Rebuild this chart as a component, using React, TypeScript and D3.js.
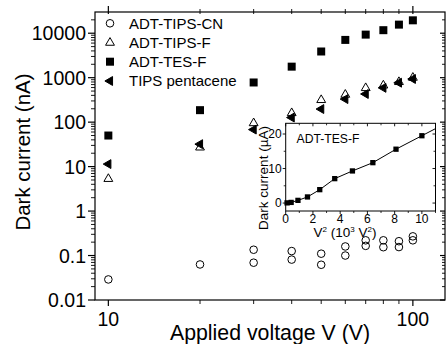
import React from "react";
import * as d3 from "d3";

const voltages = [10, 20, 30, 40, 50, 60, 70, 80, 90, 100];
const tipsCN_upper = [0.029, 0.063, 0.135, 0.126, 0.11, 0.16, 0.22, 0.22, 0.21, 0.27];
const tipsCN_lower: (number | null)[] = [null, null, 0.069, 0.081, 0.062, 0.1, 0.165, 0.154, 0.155, 0.22];
const tipsF = [5.3, 27, 95, 160, 315, 415, 585, 670, 800, 1000];
const tesF = [50, 186, 780, 1770, 3880, 7070, 9300, 11700, 15600, 19500];
const tipsPentacene = [11.4, 32, 68, 127, 197, 330, 430, 590, 770, 935];

const yMajor = [0.01, 0.1, 1, 10, 100, 1000, 10000];
const yMajorLabels = ["0.01", "0.1", "1", "10", "100", "1000", "10000"];
const xMajor = [10, 100];
const xMajorLabels = ["10", "100"];
const legendNames = ["ADT-TIPS-CN", "ADT-TIPS-F", "ADT-TES-F", "TIPS pentacene"];

const insetXTicks = [0, 2, 4, 6, 8, 10];
const insetYTicks = [0, 10, 20];
const insetXMinor = [1, 3, 5, 7, 9, 11];
const insetYMinor = [5, 15];

const FONT = "'Liberation Sans', Arial, sans-serif";

export default function App() {
  const L = 95, R = 445, T = 12, B = 300;
  const x = d3.scaleLog().domain([9.04, 127.5]).range([L, R]);
  const y = d3.scaleLog().domain([0.01, 30000]).range([B, T]);

  const yMinor: number[] = [];
  for (let e = -2; e <= 4; e++) {
    for (let m = 2; m <= 9; m++) {
      const v = m * Math.pow(10, e);
      if (v < 30000) yMinor.push(v);
    }
  }
  const xMinor = [20, 30, 40, 50, 60, 70, 80, 90];

  const square = d3.symbol().type(d3.symbolSquare).size(64)()!;
  const tri = d3.symbol().type(d3.symbolTriangle).size(34)()!;
  const sqSmall = d3.symbol().type(d3.symbolSquare).size(28)()!;

  // inset
  const iL = 285.7, iR = 435.5, iT = 123.3, iB = 211;
  const ix = d3.scaleLinear().domain([0, 11]).range([iL, iR]);
  const iy = d3.scaleLinear().domain([-2.3, 23.1]).range([iB, iT]);
  const insetX = voltages.map((v) => (v * v) / 1000);
  const insetY = tesF.map((c) => c / 1000);
  const n = insetX.length;
  const slope = (insetY[n - 1] - insetY[n - 2]) / (insetX[n - 1] - insetX[n - 2]);
  const linePts: [number, number][] = insetX.map((v, i) => [v, insetY[i]]);
  linePts.push([11, insetY[n - 1] + slope * (11 - insetX[n - 1])]);
  const line = d3
    .line<[number, number]>()
    .x((d) => ix(d[0]))
    .y((d) => iy(d[1]));

  const legendY = [23.3, 42.7, 61.7, 81];
  const legendMarkX = 110;

  return (
    <svg width={446} height={344} style={{ position: "absolute", left: 0, top: 0, background: "#fff" }} fontFamily={FONT}>
      <rect x={0} y={0} width={446} height={344} fill="#fff" />
      {/* frame */}
      <rect x={L} y={T} width={R - L} height={B - T} fill="none" stroke="#000" strokeWidth={1.2} />
      {/* y ticks left */}
      {yMajor.map((v, i) => (
        <g key={"ym" + i}>
          <line x1={L - 7} x2={L} y1={y(v)} y2={y(v)} stroke="#000" strokeWidth={1.2} />
          <line x1={R - 5} x2={R} y1={y(v)} y2={y(v)} stroke="#000" strokeWidth={1.2} />
          <text x={L - 9} y={y(v)} dy="0.36em" textAnchor="end" fontSize={19.5}>
            {yMajorLabels[i]}
          </text>
        </g>
      ))}
      {yMinor.map((v, i) => (
        <g key={"yn" + i}>
          <line x1={L - 4} x2={L} y1={y(v)} y2={y(v)} stroke="#000" strokeWidth={0.9} />
          <line x1={R - 3} x2={R} y1={y(v)} y2={y(v)} stroke="#000" strokeWidth={0.9} />
        </g>
      ))}
      {/* x ticks */}
      {xMajor.map((v, i) => (
        <g key={"xm" + i}>
          <line x1={x(v)} x2={x(v)} y1={B} y2={B + 6} stroke="#000" strokeWidth={1.2} />
          <line x1={x(v)} x2={x(v)} y1={T - 6} y2={T + 2} stroke="#000" strokeWidth={1.2} />
          <text x={x(v)} y={325.5} textAnchor="middle" fontSize={19.5}>
            {xMajorLabels[i]}
          </text>
        </g>
      ))}
      {xMinor.map((v, i) => (
        <g key={"xn" + i}>
          <line x1={x(v)} x2={x(v)} y1={B} y2={B + 4} stroke="#000" strokeWidth={0.9} />
          <line x1={x(v)} x2={x(v)} y1={T - 3} y2={T + 2} stroke="#000" strokeWidth={0.9} />
        </g>
      ))}
      {/* axis titles */}
      <text x={270} y={340} textAnchor="middle" fontSize={21.3}>
        Applied voltage V (V)
      </text>
      <text transform={`translate(30,152) rotate(-90)`} textAnchor="middle" fontSize={20.5}>
        Dark current (nA)
      </text>

      {/* data */}
      {voltages.map((v, i) => (
        <circle key={"cna" + i} cx={x(v)} cy={y(tipsCN_upper[i])} r={3.8} fill="none" stroke="#000" strokeWidth={1} />
      ))}
      {voltages.map((v, i) =>
        tipsCN_lower[i] == null ? null : (
          <circle key={"cnb" + i} cx={x(v)} cy={y(tipsCN_lower[i] as number)} r={3.8} fill="none" stroke="#000" strokeWidth={1} />
        )
      )}
      {voltages.map((v, i) => (
        <path key={"tf" + i} d={tri} transform={`translate(${x(v)},${y(tipsF[i])})`} fill="#fff" stroke="#000" strokeWidth={1} />
      ))}
      {voltages.map((v, i) => (
        <path key={"tp" + i} d={tri} transform={`translate(${x(v)},${y(tipsPentacene[i])}) rotate(-90)`} fill="#000" stroke="#000" strokeWidth={1} />
      ))}
      {voltages.map((v, i) => (
        <path key={"te" + i} d={square} transform={`translate(${x(v)},${y(tesF[i])})`} fill="#000" />
      ))}

      {/* legend */}
      <circle cx={legendMarkX} cy={legendY[0]} r={3.8} fill="none" stroke="#000" strokeWidth={1} />
      <path d={tri} transform={`translate(${legendMarkX},${legendY[1]})`} fill="#fff" stroke="#000" strokeWidth={1} />
      <path d={square} transform={`translate(${legendMarkX},${legendY[2]})`} fill="#000" />
      <path d={tri} transform={`translate(${legendMarkX},${legendY[3]}) rotate(-90)`} fill="#000" stroke="#000" strokeWidth={1} />
      {legendNames.map((name, i) => (
        <text key={"lg" + i} x={129} y={legendY[i]} dy="0.36em" fontSize={15}>
          {name}
        </text>
      ))}

      {/* inset */}
      <rect x={iL} y={iT} width={iR - iL} height={iB - iT} fill="#fff" stroke="#000" strokeWidth={1} />
      {insetXTicks.map((v, i) => (
        <g key={"ixt" + i}>
          <line x1={ix(v)} x2={ix(v)} y1={iB} y2={iB + 3} stroke="#000" strokeWidth={0.9} />
          <line x1={ix(v)} x2={ix(v)} y1={iT} y2={iT + 3} stroke="#000" strokeWidth={0.9} />
          <text x={ix(v)} y={iB + 12} textAnchor="middle" fontSize={12}>
            {v}
          </text>
        </g>
      ))}
      {insetXMinor.map((v, i) => (
        <g key={"ixn" + i}>
          <line x1={ix(v)} x2={ix(v)} y1={iB} y2={iB + 2} stroke="#000" strokeWidth={0.8} />
          <line x1={ix(v)} x2={ix(v)} y1={iT} y2={iT + 2} stroke="#000" strokeWidth={0.8} />
        </g>
      ))}
      {insetYTicks.map((v, i) => (
        <g key={"iyt" + i}>
          <line x1={iL - 3} x2={iL} y1={iy(v)} y2={iy(v)} stroke="#000" strokeWidth={0.9} />
          <line x1={iR - 3} x2={iR} y1={iy(v)} y2={iy(v)} stroke="#000" strokeWidth={0.9} />
          <text x={iL - 4} y={iy(v)} dy="0.36em" textAnchor="end" fontSize={12}>
            {v}
          </text>
        </g>
      ))}
      {insetYMinor.map((v, i) => (
        <g key={"iyn" + i}>
          <line x1={iL - 2} x2={iL} y1={iy(v)} y2={iy(v)} stroke="#000" strokeWidth={0.8} />
          <line x1={iR - 2} x2={iR} y1={iy(v)} y2={iy(v)} stroke="#000" strokeWidth={0.8} />
        </g>
      ))}
      <path d={line(linePts)!} fill="none" stroke="#000" strokeWidth={1} />
      {insetX.map((v, i) => (
        <path key={"is" + i} d={sqSmall} transform={`translate(${ix(v)},${iy(insetY[i])})`} fill="#000" />
      ))}
      <text x={296.5} y={138.3} dy="0.36em" fontSize={12.2}>
        ADT-TES-F
      </text>
      <text x={345} y={237} textAnchor="middle" fontSize={13.5}>
        V<tspan fontSize={8} dy={-5}>2</tspan>
        <tspan dy={5}> (10</tspan>
        <tspan fontSize={8} dy={-5}>3</tspan>
        <tspan dy={5}> V</tspan>
        <tspan fontSize={8} dy={-5}>2</tspan>
        <tspan dy={5}>)</tspan>
      </text>
      <text transform={`translate(268,178) rotate(-90)`} textAnchor="middle" fontSize={13.5}>
        Dark current (µA)
      </text>
    </svg>
  );
}
